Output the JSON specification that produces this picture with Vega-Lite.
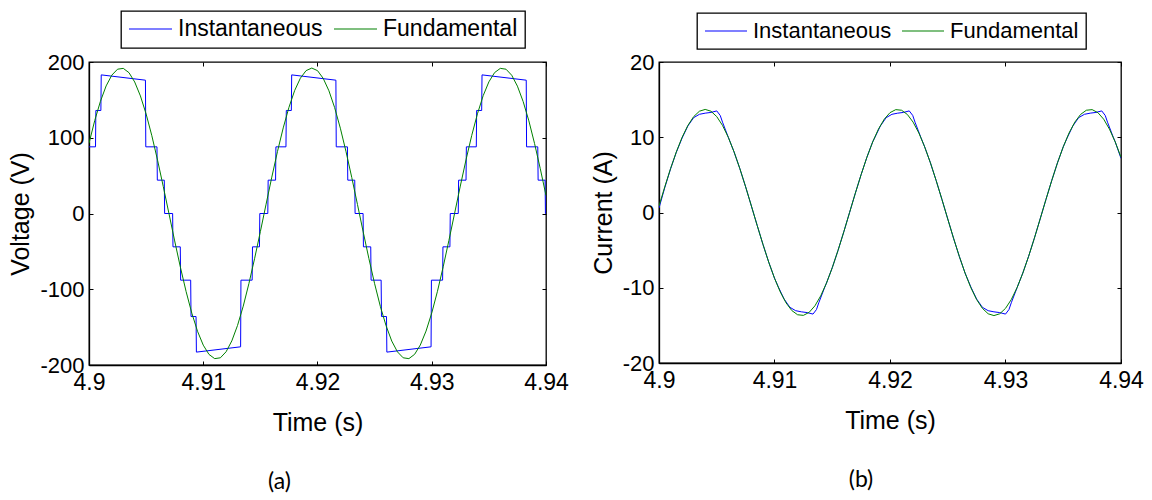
{
"$schema": "https://vega.github.io/schema/vega-lite/v6.json",
"padding": {"left": 8, "top": 9, "right": 0, "bottom": 0},
"background": "white",
"config": {
 "font": "Liberation Sans",
 "view": {"stroke": "black", "strokeWidth": 1.3},
 "axis": {"grid": false, "domainColor": "black", "domainWidth": 1.3, "tickColor": "black", "tickWidth": 1, "labelColor": "black", "titleColor": "black", "labelFont": "Liberation Sans", "titleFont": "Liberation Sans", "titleFontWeight": "normal", "labelFlush": false, "labelOverlap": false},
 "legend": {"strokeWidth": 1.3},
 "title": {"font": "Lato", "fontSize": 23, "fontWeight": "normal", "color": "black", "orient": "bottom", "anchor": "middle", "frame": "group"}
},
"datasets": {
 "voltage": [
{"t":4.9,"v":88,"s":"Instantaneous"},{"t":4.90057,"v":88,"s":"Instantaneous"},{"t":4.9006,"v":136,"s":"Instantaneous"},{"t":4.90104,"v":136,"s":"Instantaneous"},{"t":4.90107,"v":183,"s":"Instantaneous"},{"t":4.90494,"v":176,"s":"Instantaneous"},{"t":4.90497,"v":88,"s":"Instantaneous"},{"t":4.90595,"v":88,"s":"Instantaneous"},{"t":4.90598,"v":44,"s":"Instantaneous"},{"t":4.90659,"v":44,"s":"Instantaneous"},{"t":4.90662,"v":0,"s":"Instantaneous"},{"t":4.90732,"v":0,"s":"Instantaneous"},{"t":4.90735,"v":-44,"s":"Instantaneous"},{"t":4.90799,"v":-44,"s":"Instantaneous"},{"t":4.90802,"v":-88,"s":"Instantaneous"},{"t":4.9089,"v":-88,"s":"Instantaneous"},{"t":4.90893,"v":-136,"s":"Instantaneous"},{"t":4.90937,"v":-136,"s":"Instantaneous"},{"t":4.9094,"v":-183,"s":"Instantaneous"},{"t":4.91327,"v":-176,"s":"Instantaneous"},{"t":4.9133,"v":-88,"s":"Instantaneous"},{"t":4.91428,"v":-88,"s":"Instantaneous"},{"t":4.91431,"v":-44,"s":"Instantaneous"},{"t":4.91492,"v":-44,"s":"Instantaneous"},{"t":4.91495,"v":0,"s":"Instantaneous"},{"t":4.91565,"v":0,"s":"Instantaneous"},{"t":4.91568,"v":44,"s":"Instantaneous"},{"t":4.91633,"v":44,"s":"Instantaneous"},{"t":4.91636,"v":88,"s":"Instantaneous"},{"t":4.91724,"v":88,"s":"Instantaneous"},{"t":4.91727,"v":136,"s":"Instantaneous"},{"t":4.91771,"v":136,"s":"Instantaneous"},{"t":4.91774,"v":183,"s":"Instantaneous"},{"t":4.92161,"v":176,"s":"Instantaneous"},{"t":4.92164,"v":88,"s":"Instantaneous"},{"t":4.92262,"v":88,"s":"Instantaneous"},{"t":4.92265,"v":44,"s":"Instantaneous"},{"t":4.92326,"v":44,"s":"Instantaneous"},{"t":4.92329,"v":0,"s":"Instantaneous"},{"t":4.92399,"v":0,"s":"Instantaneous"},{"t":4.92402,"v":-44,"s":"Instantaneous"},{"t":4.92466,"v":-44,"s":"Instantaneous"},{"t":4.92469,"v":-88,"s":"Instantaneous"},{"t":4.92557,"v":-88,"s":"Instantaneous"},{"t":4.9256,"v":-136,"s":"Instantaneous"},{"t":4.92604,"v":-136,"s":"Instantaneous"},{"t":4.92607,"v":-183,"s":"Instantaneous"},{"t":4.92994,"v":-176,"s":"Instantaneous"},{"t":4.92997,"v":-88,"s":"Instantaneous"},{"t":4.93095,"v":-88,"s":"Instantaneous"},{"t":4.93098,"v":-44,"s":"Instantaneous"},{"t":4.93159,"v":-44,"s":"Instantaneous"},{"t":4.93162,"v":0,"s":"Instantaneous"},{"t":4.93232,"v":0,"s":"Instantaneous"},{"t":4.93235,"v":44,"s":"Instantaneous"},{"t":4.933,"v":44,"s":"Instantaneous"},{"t":4.93303,"v":88,"s":"Instantaneous"},{"t":4.9339,"v":88,"s":"Instantaneous"},{"t":4.93393,"v":136,"s":"Instantaneous"},{"t":4.93437,"v":136,"s":"Instantaneous"},{"t":4.9344,"v":183,"s":"Instantaneous"},{"t":4.93827,"v":176,"s":"Instantaneous"},{"t":4.9383,"v":88,"s":"Instantaneous"},{"t":4.93928,"v":88,"s":"Instantaneous"},{"t":4.93931,"v":44,"s":"Instantaneous"},{"t":4.93992,"v":44,"s":"Instantaneous"},{"t":4.93995,"v":0,"s":"Instantaneous"},{"t":4.94,"v":0,"s":"Instantaneous"},
{"t":4.9,"v":92.7,"s":"Fundamental"},{"t":4.9005,"v":122.6,"s":"Fundamental"},{"t":4.901,"v":148.1,"s":"Fundamental"},{"t":4.9015,"v":168.4,"s":"Fundamental"},{"t":4.902,"v":182.7,"s":"Fundamental"},{"t":4.9025,"v":190.5,"s":"Fundamental"},{"t":4.903,"v":191.6,"s":"Fundamental"},{"t":4.9035,"v":185.9,"s":"Fundamental"},{"t":4.904,"v":173.6,"s":"Fundamental"},{"t":4.9045,"v":155.2,"s":"Fundamental"},{"t":4.905,"v":131.3,"s":"Fundamental"},{"t":4.9055,"v":102.7,"s":"Fundamental"},{"t":4.906,"v":70.4,"s":"Fundamental"},{"t":4.9065,"v":35.7,"s":"Fundamental"},{"t":4.907,"v":-0.2,"s":"Fundamental"},{"t":4.9075,"v":-36.2,"s":"Fundamental"},{"t":4.908,"v":-70.9,"s":"Fundamental"},{"t":4.9085,"v":-103.1,"s":"Fundamental"},{"t":4.909,"v":-131.6,"s":"Fundamental"},{"t":4.9095,"v":-155.5,"s":"Fundamental"},{"t":4.91,"v":-173.8,"s":"Fundamental"},{"t":4.9105,"v":-186.0,"s":"Fundamental"},{"t":4.911,"v":-191.6,"s":"Fundamental"},{"t":4.9115,"v":-190.5,"s":"Fundamental"},{"t":4.912,"v":-182.5,"s":"Fundamental"},{"t":4.9125,"v":-168.2,"s":"Fundamental"},{"t":4.913,"v":-147.8,"s":"Fundamental"},{"t":4.9135,"v":-122.3,"s":"Fundamental"},{"t":4.914,"v":-92.3,"s":"Fundamental"},{"t":4.9145,"v":-59.1,"s":"Fundamental"},{"t":4.915,"v":-23.8,"s":"Fundamental"},{"t":4.9155,"v":12.3,"s":"Fundamental"},{"t":4.916,"v":48.0,"s":"Fundamental"},{"t":4.9165,"v":82.0,"s":"Fundamental"},{"t":4.917,"v":113.0,"s":"Fundamental"},{"t":4.9175,"v":140.1,"s":"Fundamental"},{"t":4.918,"v":162.3,"s":"Fundamental"},{"t":4.9185,"v":178.6,"s":"Fundamental"},{"t":4.919,"v":188.6,"s":"Fundamental"},{"t":4.9195,"v":192.0,"s":"Fundamental"},{"t":4.92,"v":188.6,"s":"Fundamental"},{"t":4.9205,"v":178.4,"s":"Fundamental"},{"t":4.921,"v":162.0,"s":"Fundamental"},{"t":4.9215,"v":139.8,"s":"Fundamental"},{"t":4.922,"v":112.6,"s":"Fundamental"},{"t":4.9225,"v":81.5,"s":"Fundamental"},{"t":4.923,"v":47.5,"s":"Fundamental"},{"t":4.9235,"v":11.8,"s":"Fundamental"},{"t":4.924,"v":-24.3,"s":"Fundamental"},{"t":4.9245,"v":-59.6,"s":"Fundamental"},{"t":4.925,"v":-92.7,"s":"Fundamental"},{"t":4.9255,"v":-122.6,"s":"Fundamental"},{"t":4.926,"v":-148.1,"s":"Fundamental"},{"t":4.9265,"v":-168.4,"s":"Fundamental"},{"t":4.927,"v":-182.7,"s":"Fundamental"},{"t":4.9275,"v":-190.5,"s":"Fundamental"},{"t":4.928,"v":-191.6,"s":"Fundamental"},{"t":4.9285,"v":-185.9,"s":"Fundamental"},{"t":4.929,"v":-173.6,"s":"Fundamental"},{"t":4.9295,"v":-155.2,"s":"Fundamental"},{"t":4.93,"v":-131.3,"s":"Fundamental"},{"t":4.9305,"v":-102.7,"s":"Fundamental"},{"t":4.931,"v":-70.4,"s":"Fundamental"},{"t":4.9315,"v":-35.7,"s":"Fundamental"},{"t":4.932,"v":0.2,"s":"Fundamental"},{"t":4.9325,"v":36.2,"s":"Fundamental"},{"t":4.933,"v":70.9,"s":"Fundamental"},{"t":4.9335,"v":103.1,"s":"Fundamental"},{"t":4.934,"v":131.6,"s":"Fundamental"},{"t":4.9345,"v":155.5,"s":"Fundamental"},{"t":4.935,"v":173.8,"s":"Fundamental"},{"t":4.9355,"v":186.0,"s":"Fundamental"},{"t":4.936,"v":191.6,"s":"Fundamental"},{"t":4.9365,"v":190.5,"s":"Fundamental"},{"t":4.937,"v":182.5,"s":"Fundamental"},{"t":4.9375,"v":168.1,"s":"Fundamental"},{"t":4.938,"v":147.8,"s":"Fundamental"},{"t":4.9385,"v":122.3,"s":"Fundamental"},{"t":4.939,"v":92.3,"s":"Fundamental"},{"t":4.9395,"v":59.1,"s":"Fundamental"},{"t":4.94,"v":23.8,"s":"Fundamental"}
 ],
 "current": [
{"t":4.9,"v":0.6,"s":"Instantaneous"},{"t":4.9005,"v":3.3,"s":"Instantaneous"},{"t":4.901,"v":5.8,"s":"Instantaneous"},{"t":4.9015,"v":8.0,"s":"Instantaneous"},{"t":4.902,"v":9.9,"s":"Instantaneous"},{"t":4.9025,"v":11.5,"s":"Instantaneous"},{"t":4.903,"v":12.6,"s":"Instantaneous"},{"t":4.9035,"v":13.05,"s":"Instantaneous"},{"t":4.904,"v":13.2,"s":"Instantaneous"},{"t":4.9045,"v":13.3,"s":"Instantaneous"},{"t":4.905,"v":13.5,"s":"Instantaneous"},{"t":4.9053,"v":12.9,"s":"Instantaneous"},{"t":4.9055,"v":12.0,"s":"Instantaneous"},{"t":4.906,"v":10.0,"s":"Instantaneous"},{"t":4.9065,"v":8.05,"s":"Instantaneous"},{"t":4.907,"v":5.83,"s":"Instantaneous"},{"t":4.9075,"v":3.41,"s":"Instantaneous"},{"t":4.908,"v":0.86,"s":"Instantaneous"},{"t":4.9085,"v":-1.72,"s":"Instantaneous"},{"t":4.909,"v":-4.23,"s":"Instantaneous"},{"t":4.9095,"v":-6.6,"s":"Instantaneous"},{"t":4.91,"v":-8.73,"s":"Instantaneous"},{"t":4.910333,"v":-9.9,"s":"Instantaneous"},{"t":4.910833,"v":-11.5,"s":"Instantaneous"},{"t":4.911333,"v":-12.6,"s":"Instantaneous"},{"t":4.911833,"v":-13.05,"s":"Instantaneous"},{"t":4.912333,"v":-13.2,"s":"Instantaneous"},{"t":4.912833,"v":-13.3,"s":"Instantaneous"},{"t":4.913333,"v":-13.5,"s":"Instantaneous"},{"t":4.913633,"v":-12.9,"s":"Instantaneous"},{"t":4.913833,"v":-12.0,"s":"Instantaneous"},{"t":4.914333,"v":-10.0,"s":"Instantaneous"},{"t":4.9145,"v":-9.38,"s":"Instantaneous"},{"t":4.915,"v":-7.34,"s":"Instantaneous"},{"t":4.9155,"v":-5.04,"s":"Instantaneous"},{"t":4.916,"v":-2.57,"s":"Instantaneous"},{"t":4.9165,"v":0,"s":"Instantaneous"},{"t":4.917,"v":2.57,"s":"Instantaneous"},{"t":4.9175,"v":5.04,"s":"Instantaneous"},{"t":4.918,"v":7.34,"s":"Instantaneous"},{"t":4.9185,"v":9.38,"s":"Instantaneous"},{"t":4.918667,"v":9.9,"s":"Instantaneous"},{"t":4.919167,"v":11.5,"s":"Instantaneous"},{"t":4.919667,"v":12.6,"s":"Instantaneous"},{"t":4.920167,"v":13.05,"s":"Instantaneous"},{"t":4.920667,"v":13.2,"s":"Instantaneous"},{"t":4.921167,"v":13.3,"s":"Instantaneous"},{"t":4.921667,"v":13.5,"s":"Instantaneous"},{"t":4.921967,"v":12.9,"s":"Instantaneous"},{"t":4.922167,"v":12.0,"s":"Instantaneous"},{"t":4.922667,"v":10.0,"s":"Instantaneous"},{"t":4.923,"v":8.73,"s":"Instantaneous"},{"t":4.9235,"v":6.6,"s":"Instantaneous"},{"t":4.924,"v":4.23,"s":"Instantaneous"},{"t":4.9245,"v":1.72,"s":"Instantaneous"},{"t":4.925,"v":-0.86,"s":"Instantaneous"},{"t":4.9255,"v":-3.41,"s":"Instantaneous"},{"t":4.926,"v":-5.83,"s":"Instantaneous"},{"t":4.9265,"v":-8.05,"s":"Instantaneous"},{"t":4.927,"v":-9.9,"s":"Instantaneous"},{"t":4.9275,"v":-11.5,"s":"Instantaneous"},{"t":4.928,"v":-12.6,"s":"Instantaneous"},{"t":4.9285,"v":-13.05,"s":"Instantaneous"},{"t":4.929,"v":-13.2,"s":"Instantaneous"},{"t":4.9295,"v":-13.3,"s":"Instantaneous"},{"t":4.93,"v":-13.5,"s":"Instantaneous"},{"t":4.9303,"v":-12.9,"s":"Instantaneous"},{"t":4.9305,"v":-12.0,"s":"Instantaneous"},{"t":4.931,"v":-10.0,"s":"Instantaneous"},{"t":4.9315,"v":-8.05,"s":"Instantaneous"},{"t":4.932,"v":-5.83,"s":"Instantaneous"},{"t":4.9325,"v":-3.41,"s":"Instantaneous"},{"t":4.933,"v":-0.86,"s":"Instantaneous"},{"t":4.9335,"v":1.72,"s":"Instantaneous"},{"t":4.934,"v":4.23,"s":"Instantaneous"},{"t":4.9345,"v":6.6,"s":"Instantaneous"},{"t":4.935,"v":8.73,"s":"Instantaneous"},{"t":4.935333,"v":9.9,"s":"Instantaneous"},{"t":4.935833,"v":11.5,"s":"Instantaneous"},{"t":4.936333,"v":12.6,"s":"Instantaneous"},{"t":4.936833,"v":13.05,"s":"Instantaneous"},{"t":4.937333,"v":13.2,"s":"Instantaneous"},{"t":4.937833,"v":13.3,"s":"Instantaneous"},{"t":4.938333,"v":13.5,"s":"Instantaneous"},{"t":4.938633,"v":12.9,"s":"Instantaneous"},{"t":4.938833,"v":12.0,"s":"Instantaneous"},{"t":4.939333,"v":10.0,"s":"Instantaneous"},{"t":4.9395,"v":9.38,"s":"Instantaneous"},{"t":4.94,"v":7.2,"s":"Instantaneous"},
{"t":4.9,"v":0.86,"s":"Fundamental"},{"t":4.9005,"v":3.41,"s":"Fundamental"},{"t":4.901,"v":5.83,"s":"Fundamental"},{"t":4.9015,"v":8.05,"s":"Fundamental"},{"t":4.902,"v":9.99,"s":"Fundamental"},{"t":4.9025,"v":11.57,"s":"Fundamental"},{"t":4.903,"v":12.74,"s":"Fundamental"},{"t":4.9035,"v":13.46,"s":"Fundamental"},{"t":4.904,"v":13.7,"s":"Fundamental"},{"t":4.9045,"v":13.46,"s":"Fundamental"},{"t":4.905,"v":12.74,"s":"Fundamental"},{"t":4.9055,"v":11.57,"s":"Fundamental"},{"t":4.906,"v":9.99,"s":"Fundamental"},{"t":4.9065,"v":8.05,"s":"Fundamental"},{"t":4.907,"v":5.83,"s":"Fundamental"},{"t":4.9075,"v":3.41,"s":"Fundamental"},{"t":4.908,"v":0.86,"s":"Fundamental"},{"t":4.9085,"v":-1.72,"s":"Fundamental"},{"t":4.909,"v":-4.23,"s":"Fundamental"},{"t":4.9095,"v":-6.6,"s":"Fundamental"},{"t":4.91,"v":-8.73,"s":"Fundamental"},{"t":4.9105,"v":-10.56,"s":"Fundamental"},{"t":4.911,"v":-12.01,"s":"Fundamental"},{"t":4.9115,"v":-13.03,"s":"Fundamental"},{"t":4.912,"v":-13.59,"s":"Fundamental"},{"t":4.9125,"v":-13.67,"s":"Fundamental"},{"t":4.913,"v":-13.27,"s":"Fundamental"},{"t":4.9135,"v":-12.4,"s":"Fundamental"},{"t":4.914,"v":-11.08,"s":"Fundamental"},{"t":4.9145,"v":-9.38,"s":"Fundamental"},{"t":4.915,"v":-7.34,"s":"Fundamental"},{"t":4.9155,"v":-5.04,"s":"Fundamental"},{"t":4.916,"v":-2.57,"s":"Fundamental"},{"t":4.9165,"v":0,"s":"Fundamental"},{"t":4.917,"v":2.57,"s":"Fundamental"},{"t":4.9175,"v":5.04,"s":"Fundamental"},{"t":4.918,"v":7.34,"s":"Fundamental"},{"t":4.9185,"v":9.38,"s":"Fundamental"},{"t":4.919,"v":11.08,"s":"Fundamental"},{"t":4.9195,"v":12.4,"s":"Fundamental"},{"t":4.92,"v":13.27,"s":"Fundamental"},{"t":4.9205,"v":13.67,"s":"Fundamental"},{"t":4.921,"v":13.59,"s":"Fundamental"},{"t":4.9215,"v":13.03,"s":"Fundamental"},{"t":4.922,"v":12.01,"s":"Fundamental"},{"t":4.9225,"v":10.56,"s":"Fundamental"},{"t":4.923,"v":8.73,"s":"Fundamental"},{"t":4.9235,"v":6.6,"s":"Fundamental"},{"t":4.924,"v":4.23,"s":"Fundamental"},{"t":4.9245,"v":1.72,"s":"Fundamental"},{"t":4.925,"v":-0.86,"s":"Fundamental"},{"t":4.9255,"v":-3.41,"s":"Fundamental"},{"t":4.926,"v":-5.83,"s":"Fundamental"},{"t":4.9265,"v":-8.05,"s":"Fundamental"},{"t":4.927,"v":-9.99,"s":"Fundamental"},{"t":4.9275,"v":-11.57,"s":"Fundamental"},{"t":4.928,"v":-12.74,"s":"Fundamental"},{"t":4.9285,"v":-13.46,"s":"Fundamental"},{"t":4.929,"v":-13.7,"s":"Fundamental"},{"t":4.9295,"v":-13.46,"s":"Fundamental"},{"t":4.93,"v":-12.74,"s":"Fundamental"},{"t":4.9305,"v":-11.57,"s":"Fundamental"},{"t":4.931,"v":-9.99,"s":"Fundamental"},{"t":4.9315,"v":-8.05,"s":"Fundamental"},{"t":4.932,"v":-5.83,"s":"Fundamental"},{"t":4.9325,"v":-3.41,"s":"Fundamental"},{"t":4.933,"v":-0.86,"s":"Fundamental"},{"t":4.9335,"v":1.72,"s":"Fundamental"},{"t":4.934,"v":4.23,"s":"Fundamental"},{"t":4.9345,"v":6.6,"s":"Fundamental"},{"t":4.935,"v":8.73,"s":"Fundamental"},{"t":4.9355,"v":10.56,"s":"Fundamental"},{"t":4.936,"v":12.01,"s":"Fundamental"},{"t":4.9365,"v":13.03,"s":"Fundamental"},{"t":4.937,"v":13.59,"s":"Fundamental"},{"t":4.9375,"v":13.67,"s":"Fundamental"},{"t":4.938,"v":13.27,"s":"Fundamental"},{"t":4.9385,"v":12.4,"s":"Fundamental"},{"t":4.939,"v":11.08,"s":"Fundamental"},{"t":4.9395,"v":9.38,"s":"Fundamental"},{"t":4.94,"v":7.34,"s":"Fundamental"}
 ]
},
"spacing": 20,
"resolve": {"scale": {"color": "independent"}, "legend": {"color": "independent"}},
"hconcat": [
 {
  "width": 457, "height": 303,
  "data": {"name": "voltage"},
  "title": {"text": "(a)", "dx": -38, "offset": 36},
  "layer": [
   {
    "mark": {"type": "line", "strokeWidth": 1, "clip": true},
    "encoding": {
     "x": {"field": "t", "type": "quantitative", "scale": {"domain": [4.9, 4.94], "nice": false, "zero": false},
      "axis": {"orient": "bottom", "values": [4.9, 4.91, 4.92, 4.93, 4.94], "labelExpr": "'' + datum.value", "tickSize": -4, "labelPadding": 10, "labelFontSize": 23, "title": "Time (s)", "titleFontSize": 25, "titlePadding": 16}},
     "y": {"field": "v", "type": "quantitative", "scale": {"domain": [-200, 200], "nice": false},
      "axis": {"orient": "left", "values": [-200, -100, 0, 100, 200], "labelExpr": "'' + datum.value", "tickSize": -4, "labelPadding": 9, "labelFontSize": 22, "title": "Voltage (V)", "titleFontSize": 25, "titlePadding": 6}},
     "color": {"field": "s", "type": "nominal", "scale": {"domain": ["Instantaneous", "Fundamental"], "range": ["#0000ff", "#008000"]},
      "legend": {"orient": "none", "legendX": 32, "legendY": -51, "direction": "horizontal", "title": null, "symbolType": "stroke", "symbolSize": 1849, "symbolStrokeWidth": 1.2, "clipHeight": 22, "labelFontSize": 23, "labelFont": "Liberation Sans", "labelColor": "black", "strokeColor": "black", "fillColor": "white", "padding": 7, "columnPadding": 10, "labelOffset": 5, "labelLimit": 0}}
    }
   },
   {
    "mark": {"type": "line", "opacity": 0},
    "encoding": {
     "x": {"field": "t", "type": "quantitative", "axis": {"orient": "top", "values": [4.9, 4.91, 4.92, 4.93, 4.94], "labels": false, "domain": false, "tickSize": -4, "title": null}},
     "y": {"field": "v", "type": "quantitative", "axis": {"orient": "right", "values": [-200, -100, 0, 100, 200], "labels": false, "domain": false, "tickSize": -4, "title": null}},
     "detail": {"field": "s"}
    }
   }
  ],
  "resolve": {"axis": {"x": "independent", "y": "independent"}}
 },
 {
  "width": 462, "height": 301,
  "data": {"name": "current"},
  "title": {"text": "(b)", "dx": -29, "offset": 36},
  "layer": [
   {
    "mark": {"type": "line", "strokeWidth": 1, "clip": true},
    "encoding": {
     "x": {"field": "t", "type": "quantitative", "scale": {"domain": [4.9, 4.94], "nice": false, "zero": false},
      "axis": {"orient": "bottom", "values": [4.9, 4.91, 4.92, 4.93, 4.94], "labelExpr": "'' + datum.value", "tickSize": -4, "labelPadding": 10, "labelFontSize": 23, "title": "Time (s)", "titleFontSize": 25, "titlePadding": 16}},
     "y": {"field": "v", "type": "quantitative", "scale": {"domain": [-20, 20], "nice": false},
      "axis": {"orient": "left", "values": [-20, -10, 0, 10, 20], "labelExpr": "'' + datum.value", "tickSize": -4, "labelPadding": 9, "labelFontSize": 22, "title": "Current (A)", "titleFontSize": 25, "titlePadding": 6}},
     "color": {"field": "s", "type": "nominal", "scale": {"domain": ["Instantaneous", "Fundamental"], "range": ["#0000ff", "#008000"]},
      "legend": {"orient": "none", "legendX": 38, "legendY": -49, "direction": "horizontal", "title": null, "symbolType": "stroke", "symbolSize": 1764, "symbolStrokeWidth": 1.2, "clipHeight": 22, "labelFontSize": 22, "labelFont": "Liberation Sans", "labelColor": "black", "strokeColor": "black", "fillColor": "white", "padding": 7, "columnPadding": 9, "labelOffset": 5, "labelLimit": 0}}
    }
   },
   {
    "mark": {"type": "line", "opacity": 0},
    "encoding": {
     "x": {"field": "t", "type": "quantitative", "axis": {"orient": "top", "values": [4.9, 4.91, 4.92, 4.93, 4.94], "labels": false, "domain": false, "tickSize": -4, "title": null}},
     "y": {"field": "v", "type": "quantitative", "axis": {"orient": "right", "values": [-20, -10, 0, 10, 20], "labels": false, "domain": false, "tickSize": -4, "title": null}},
     "detail": {"field": "s"}
    }
   }
  ],
  "resolve": {"axis": {"x": "independent", "y": "independent"}}
 }
]
}
